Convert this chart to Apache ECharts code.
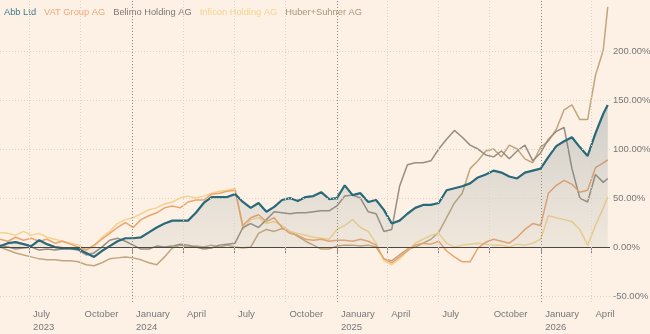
<!DOCTYPE html>
<html>
<head>
<meta charset="utf-8">
<script src="https://cdn.jsdelivr.net/npm/echarts@6/dist/echarts.min.js"></script>
<style>
  html, body { margin: 0; padding: 0; background: #fdf1e6; }
  #main { width: 650px; height: 334px; }
</style>
</head>
<body>
<div id="main"></div>
<script>
// fortnightly closes, % change since start
var dates = [
  '2023-05-10','2023-05-24','2023-06-07','2023-06-21','2023-07-05','2023-07-19','2023-08-02','2023-08-16',
  '2023-08-30','2023-09-13','2023-09-27','2023-10-11','2023-10-25','2023-11-08','2023-11-22','2023-12-06',
  '2023-12-20','2024-01-03','2024-01-17','2024-01-31','2024-02-14','2024-02-28','2024-03-13','2024-03-27',
  '2024-04-10','2024-04-24','2024-05-08','2024-05-22','2024-06-05','2024-06-19','2024-07-03','2024-07-17',
  '2024-07-31','2024-08-14','2024-08-28','2024-09-11','2024-09-25','2024-10-09','2024-10-23','2024-11-06',
  '2024-11-20','2024-12-04','2024-12-18','2025-01-01','2025-01-15','2025-01-29','2025-02-12','2025-02-26',
  '2025-03-12','2025-03-26','2025-04-09','2025-04-23','2025-05-07','2025-05-21','2025-06-04','2025-06-18',
  '2025-07-02','2025-07-16','2025-07-30','2025-08-13','2025-08-27','2025-09-10','2025-09-24','2025-10-08',
  '2025-10-22','2025-11-05','2025-11-19','2025-12-03','2025-12-17','2025-12-31','2026-01-14','2026-01-28',
  '2026-02-11','2026-02-25','2026-03-11','2026-03-25','2026-04-08','2026-04-22','2026-04-30'
];

var abb = [1,4,5,3,1,7,3,0,-1,-1,-2,-6,-10,-4,1,6,9,9,10,15,20,24,27,27,27,35,45,51,51,51,54,46,40,45,36,41,48,50,47,51,
  52,56,49,50,63,53,55,46,48,38,24,27,34,40,43,43,45,58,60,62,65,71,74,78,76,72,70,76,78,80,92,103,108,112,102,93,116,136,145];

var vat = [8,6,10,7,9,6,8,4,6,3,0,-3,2,8,14,20,25,20,28,32,35,40,42,40,46,48,48,54,55,57,58,22,30,33,26,30,20,14,12,8,
  7,8,6,7,7,6,8,6,2,-12,-16,-10,-4,2,4,3,6,-4,-10,-15,-15,-1,5,8,6,4,10,18,24,22,55,63,68,64,56,58,81,86,89];

var belimo = [2,0,-2,-1,0,-3,-2,-3,-2,-2,-3,-8,-6,0,7,9,6,2,-2,-2,1,0,1,3,2,0,-2,-1,2,3,4,20,24,20,28,36,35,34,35,35,
  36,37,37,42,52,53,50,36,34,16,18,62,84,86,86,88,100,110,119,112,104,100,94,92,98,90,98,104,88,96,110,118,122,80,50,46,74,66,70];

var inficon = [15,14,12,16,12,14,10,8,6,4,2,-2,0,10,16,24,28,30,34,38,40,44,46,50,52,50,52,55,57,58,60,18,28,30,24,26,22,16,14,12,
  10,9,8,18,22,28,20,16,4,-14,-18,-12,-4,4,8,12,14,4,0,2,3,4,3,2,2,0,3,2,4,8,32,30,28,26,18,2,22,40,51];

var huber = [0,-3,-6,-8,-10,-12,-13,-13,-14,-14,-15,-18,-19,-16,-12,-11,-10,-11,-13,-16,-18,-10,-1,2,0,1,0,2,0,2,0,-1,0,14,18,16,19,16,11,6,
  2,-2,-2,1,2,2,1,2,0,-12,-14,-8,-2,0,4,8,15,30,45,55,80,88,98,100,92,104,100,90,86,102,108,120,140,145,130,130,175,201,245];

var yTicks = [-50, 0, 50, 100, 150, 200];
var quarterTicks = ['2023-07-01','2023-10-01','2024-01-01','2024-04-01','2024-07-01','2024-10-01',
  '2025-01-01','2025-04-01','2025-07-01','2025-10-01','2026-01-01','2026-04-01'];
var monthNames = ['January','February','March','April','May','June','July','August','September','October','November','December'];

var names = ['Abb Ltd', 'VAT Group AG', 'Belimo Holding AG', 'Inficon Holding AG', 'Huber+Suhner AG'];
var colors = ['#296979', '#eba46f', '#978d81', '#f3d38c', '#c0a67c'];
var legendColors = ['#3d7b8a', '#eda877', '#7f7770', '#f3d38c', '#a89677'];

function ts(d) { return +echarts.time.parse(d); }

function pairs(vals) {
  return dates.map(function (d, i) { return [ts(d), vals[i]]; });
}

var quarterTs = quarterTicks.map(ts);

var gridLines = yTicks.map(function (t) {
  return {
    yAxis: t,
    label: { show: true },
    lineStyle: t === 0
      ? { color: '#4a4644', type: 'solid', width: 1.2 }
      : { color: '#dcd3ca', type: [1, 2], width: 1 }
  };
}).concat(quarterTs.map(function (q) {
  var jan = new Date(q).getMonth() === 0;
  return {
    xAxis: q,
    label: { show: false },
    lineStyle: { color: jan ? '#8e8880' : '#dcd3ca', type: [1, 2], width: 1 }
  };
}));

var chart = echarts.init(document.getElementById('main'));

chart.setOption({
  backgroundColor: '#fdf1e6',
  animation: false,
  textStyle: { fontFamily: 'Liberation Sans, Arial, sans-serif' },
  legend: {
    left: -6,
    top: 3,
    itemWidth: 0,
    itemHeight: 0,
    itemGap: 3,
    textStyle: { fontSize: 9.3 },
    data: names.map(function (n, i) {
      return { name: n, icon: 'rect', itemStyle: { opacity: 0 }, textStyle: { color: legendColors[i] } };
    })
  },
  grid: { left: 0, right: 40, top: 0, bottom: 32 },
  xAxis: {
    type: 'value',
    min: ts('2023-05-10'),
    max: ts('2026-05-04'),
    axisLine: { show: false },
    splitLine: { show: false },
    axisTick: {
      show: true,
      length: 6,
      customValues: quarterTs,
      lineStyle: { color: '#8e8880' }
    },
    axisLabel: {
      customValues: quarterTs,
      color: '#777',
      fontSize: 9.5,
      lineHeight: 13,
      align: 'left',
      margin: 6,
      padding: [0, 0, 0, 4],
      formatter: function (v) {
        var d = new Date(v);
        var m = d.getMonth();
        var s = monthNames[m];
        if (m === 0 || v === quarterTs[0]) s += '\n' + d.getFullYear();
        return s;
      }
    }
  },
  yAxis: {
    type: 'value',
    min: -56,
    max: 252,
    show: false,
    splitLine: { show: false }
  },
  series: [
    {
      name: 'grid',
      type: 'line',
      data: [],
      z: 1,
      silent: true,
      markLine: {
        silent: true,
        symbol: ['none', 'none'],
        animation: false,
        label: {
          position: 'end',
          distance: 3,
          color: '#777',
          fontSize: 9.5,
          formatter: function (p) { return p.value.toFixed(2) + '%'; }
        },
        data: gridLines
      }
    },
    {
      name: names[4], type: 'line', data: pairs(huber), showSymbol: false, z: 3,
      lineStyle: { color: colors[4], width: 1.5 }, itemStyle: { color: colors[4] }
    },
    {
      name: names[3], type: 'line', data: pairs(inficon), showSymbol: false, z: 3,
      lineStyle: { color: colors[3], width: 1.5 }, itemStyle: { color: colors[3] }
    },
    {
      name: names[2], type: 'line', data: pairs(belimo), showSymbol: false, z: 3,
      lineStyle: { color: colors[2], width: 1.5 }, itemStyle: { color: colors[2] }
    },
    {
      name: names[1], type: 'line', data: pairs(vat), showSymbol: false, z: 3,
      lineStyle: { color: colors[1], width: 1.5 }, itemStyle: { color: colors[1] }
    },
    {
      name: names[0], type: 'line', data: pairs(abb), showSymbol: false, z: 4,
      lineStyle: { color: colors[0], width: 2.2 }, itemStyle: { color: colors[0] },
      areaStyle: {
        origin: 0,
        color: new echarts.graphic.LinearGradient(0, 0, 0, 1, [
          { offset: 0, color: 'rgba(80,112,122,0.40)' },
          { offset: 1, color: 'rgba(150,160,150,0.16)' }
        ])
      }
    }
  ]
});
</script>
</body>
</html>
